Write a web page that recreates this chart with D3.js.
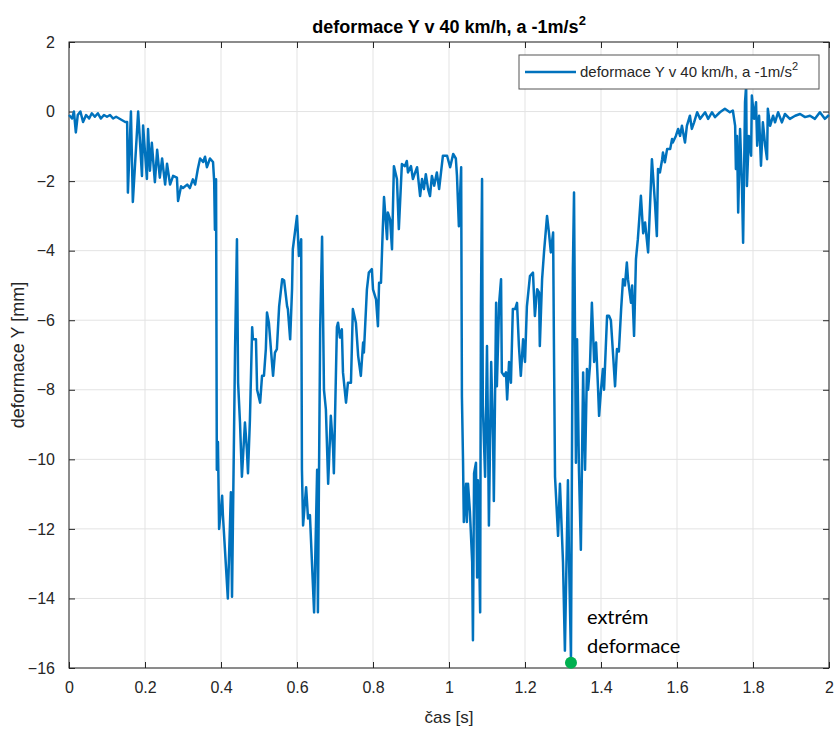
<!DOCTYPE html>
<html>
<head>
<meta charset="utf-8">
<script src="https://cdn.jsdelivr.net/npm/d3@7"></script>
<style>
  body { margin: 0; background: #fff; }
  svg { display: block; font-family: "Liberation Sans", Arial, sans-serif; }
</style>
</head>
<body>
<div id="chart"></div>
<script>
//Časová osa [s]
const casS = [
  0.000, 0.008, 0.013, 0.018, 0.023, 0.030, 0.037, 0.045, 0.053, 0.060, 0.068, 0.076, 0.084, 0.092, 0.100,
  0.108, 0.116, 0.124, 0.132, 0.140, 0.148, 0.153, 0.155, 0.163, 0.168, 0.182, 0.187, 0.192, 0.195, 0.205,
  0.208, 0.213, 0.218, 0.226, 0.232, 0.239, 0.245, 0.253, 0.258, 0.266, 0.274, 0.284, 0.287, 0.295, 0.300,
  0.311, 0.318, 0.326, 0.332, 0.339, 0.345, 0.353, 0.358, 0.363, 0.371, 0.379, 0.382, 0.384, 0.387, 0.389,
  0.392, 0.395, 0.403, 0.405, 0.418, 0.426, 0.429, 0.437, 0.442, 0.445, 0.450, 0.455, 0.463, 0.468, 0.471,
  0.476, 0.482, 0.484, 0.492, 0.495, 0.503, 0.508, 0.513, 0.518, 0.521, 0.526, 0.534, 0.537, 0.542, 0.547,
  0.553, 0.561, 0.566, 0.574, 0.576, 0.582, 0.587, 0.589, 0.600, 0.605, 0.611, 0.613, 0.616, 0.624, 0.629,
  0.634, 0.645, 0.653, 0.655, 0.661, 0.666, 0.671, 0.676, 0.682, 0.689, 0.695, 0.697, 0.705, 0.708, 0.713,
  0.718, 0.721, 0.729, 0.734, 0.742, 0.747, 0.755, 0.761, 0.768, 0.774, 0.776, 0.784, 0.789, 0.797, 0.800,
  0.808, 0.813, 0.816, 0.821, 0.826, 0.829, 0.837, 0.839, 0.845, 0.850, 0.855, 0.863, 0.868, 0.876, 0.884,
  0.889, 0.892, 0.900, 0.905, 0.911, 0.916, 0.924, 0.929, 0.934, 0.939, 0.945, 0.950, 0.955, 0.961, 0.968,
  0.974, 0.979, 0.984, 0.995, 1.003, 1.011, 1.018, 1.021, 1.026, 1.032, 1.034, 1.037, 1.039, 1.045, 1.047,
  1.050, 1.055, 1.061, 1.063, 1.066, 1.071, 1.074, 1.076, 1.082, 1.084, 1.087, 1.089, 1.095, 1.100, 1.103,
  1.105, 1.111, 1.116, 1.118, 1.124, 1.126, 1.132, 1.137, 1.139, 1.145, 1.150, 1.153, 1.158, 1.163, 1.168,
  1.174, 1.179, 1.184, 1.189, 1.195, 1.200, 1.205, 1.213, 1.221, 1.226, 1.232, 1.237, 1.239, 1.245, 1.250,
  1.258, 1.263, 1.268, 1.274, 1.276, 1.279, 1.287, 1.292, 1.300, 1.305, 1.313, 1.316, 1.321, 1.326, 1.329,
  1.334, 1.337, 1.342, 1.347, 1.353, 1.358, 1.363, 1.366, 1.371, 1.376, 1.382, 1.387, 1.392, 1.395, 1.400,
  1.405, 1.408, 1.416, 1.421, 1.426, 1.432, 1.437, 1.442, 1.447, 1.453, 1.458, 1.463, 1.468, 1.471, 1.479,
  1.482, 1.487, 1.492, 1.497, 1.505, 1.511, 1.516, 1.524, 1.534, 1.542, 1.547, 1.550, 1.555, 1.561, 1.563,
  1.568, 1.574, 1.582, 1.587, 1.589, 1.597, 1.603, 1.608, 1.613, 1.621, 1.626, 1.634, 1.639, 1.645, 1.653,
  1.661, 1.674, 1.682, 1.692, 1.700, 1.713, 1.726, 1.739, 1.747, 1.753, 1.755, 1.758, 1.761, 1.766, 1.771,
  1.774, 1.779, 1.782, 1.784, 1.789, 1.795, 1.797, 1.803, 1.808, 1.811, 1.816, 1.821, 1.826, 1.832, 1.837,
  1.839, 1.845, 1.853, 1.858, 1.866, 1.876, 1.884, 1.897, 1.911, 1.924, 1.937, 1.950, 1.963, 1.976, 1.989,
  2.000
];

//Deformace Y [mm]
const deformaceY = [
  -0.1, -0.2, 0.0, -0.6, -0.1, 0.0, -0.3, -0.1, -0.2, -0.05, -0.15, -0.05, -0.2, -0.1, -0.15,
  -0.1, -0.2, -0.15, -0.2, -0.25, -0.3, -0.3, -2.33, 0.0, -2.6, 0.0, -0.9, -1.85, -0.4, -1.94,
  -0.5, -1.7, -0.9, -2.03, -1.1, -1.9, -1.35, -2.1, -1.5, -2.1, -1.85, -1.9, -2.57, -2.15, -2.2,
  -2.1, -2.2, -1.95, -2.1, -1.65, -1.35, -1.45, -1.3, -1.6, -1.35, -1.45, -2.0, -3.4, -1.95, -10.3,
  -9.5, -12.0, -11.05, -11.6, -14.0, -10.95, -13.95, -6.83, -3.67, -7.8, -8.94, -10.5, -8.94, -9.7, -10.4,
  -8.9, -6.2, -6.55, -6.55, -8.0, -8.37, -7.6, -7.6, -6.83, -5.78, -6.07, -7.2, -7.6, -6.93, -6.83,
  -5.6, -4.82, -4.85, -5.6, -5.68, -6.55, -5.1, -3.96, -3.0, -4.15, -3.67, -10.3, -11.9, -10.8, -11.7,
  -11.6, -14.4, -10.3, -14.4, -6.26, -3.6, -8.0, -8.56, -10.7, -8.75, -9.7, -10.4, -6.2, -6.07, -6.5,
  -6.26, -7.5, -8.37, -7.8, -7.8, -5.68, -6.07, -7.03, -7.6, -6.64, -6.93, -5.11, -4.63, -4.53, -5.11,
  -5.4, -6.17, -4.92, -4.92, -3.29, -2.46, -3.67, -2.9, -3.1, -3.96, -1.57, -1.94, -3.38, -1.51, -1.57,
  -1.42, -1.75, -1.57, -1.94, -1.75, -1.6, -2.43, -1.94, -2.23, -1.8, -2.23, -2.43, -1.85, -2.13, -1.75,
  -2.23, -1.75, -1.27, -1.27, -1.6, -1.22, -1.35, -1.85, -3.3, -1.6, -8.2, -10.1, -11.8, -10.7, -11.8,
  -10.7, -11.5, -12.96, -15.2, -10.4, -10.1, -13.4, -10.6, -14.4, -5.6, -1.94, -8.47, -10.5, -6.74, -9.6,
  -11.9, -7.2, -9.4, -11.2, -5.5, -7.9, -5.5, -4.82, -7.5, -7.6, -7.5, -8.28, -7.2, -7.8, -5.68,
  -5.68, -5.5, -6.74, -7.6, -6.55, -7.2, -5.6, -4.73, -4.63, -5.88, -5.11, -5.2, -6.74, -4.82, -4.05,
  -3.0, -3.48, -4.05, -3.48, -6.55, -10.5, -12.2, -10.7, -12.96, -15.5, -10.6, -12.96, -15.75, -4.53, -2.33,
  -10.1, -6.55, -10.3, -12.6, -7.5, -10.3, -7.4, -8.0, -7.3, -5.5, -7.2, -6.64, -7.9, -8.75, -8.0,
  -7.4, -8.0, -5.87, -5.87, -6.0, -7.03, -7.9, -6.83, -6.9, -5.68, -4.82, -5.0, -4.34, -4.82, -5.5,
  -5.0, -6.45, -4.24, -3.67, -2.42, -3.5, -3.19, -4.05, -1.37, -2.62, -3.58, -1.65, -1.75, -1.37, -1.18,
  -1.46, -1.08, -1.08, -0.79, -0.89, -0.7, -0.5, -0.7, -0.41, -0.89, -0.41, -0.12, -0.5, -0.31, -0.02,
  -0.21, -0.02, -0.21, -0.02, -0.16, -0.02, 0.08, -0.02, 0.03, -0.41, -1.65, -0.7, -2.9, -0.5, -2.2,
  -3.77, 0.27, 0.75, -2.14, -0.7, -1.27, 0.46, -0.21, 0.27, -0.98, -0.12, -1.56, -0.31, -0.98, -1.37,
  0.08, -0.41, -0.12, -0.31, -0.02, -0.31, -0.07, -0.21, -0.12, -0.07, -0.16, -0.12, -0.21, -0.02, -0.21,
  -0.1
];

//Extrém deformace
const extremCas = 1.321, extremHodnota = -15.85;

//Popisky os
const xTicks = [0, 0.2, 0.4, 0.6, 0.8, 1, 1.2, 1.4, 1.6, 1.8, 2];
const yTicks = [2, 0, -2, -4, -6, -8, -10, -12, -14, -16];

const COLOR_LINE = '#0072BD', COLOR_AXIS = '#262626', COLOR_GRID = '#e3e3e3', COLOR_EXTREM = '#00b050';

let margin = {top: 42, right: 9, bottom: 61, left: 69},
    width = 838 - margin.left - margin.right,
    height = 729 - margin.top - margin.bottom;

let svgRoot = d3.select('#chart').append('svg')
    .attr('width', 838).attr('height', 729);

let svg = svgRoot.append('g')
    .attr('transform', 'translate(' + margin.left + ',' + margin.top + ')');

let x = d3.scaleLinear().domain([0, 2]).range([0, width]);
let y = d3.scaleLinear().domain([-16, 2]).range([height, 0]);

//Mřížka
svg.append('g').selectAll('line').data(xTicks).enter().append('line')
    .attr('x1', d => x(d)).attr('x2', d => x(d)).attr('y1', 0).attr('y2', height)
    .attr('stroke', COLOR_GRID).attr('stroke-width', 1);
svg.append('g').selectAll('line').data(yTicks).enter().append('line')
    .attr('x1', 0).attr('x2', width).attr('y1', d => y(d)).attr('y2', d => y(d))
    .attr('stroke', COLOR_GRID).attr('stroke-width', 1);

//Osy (tick dovnitř jako v MATLABu)
function styleAxis(g) {
    g.select('.domain').remove();
    g.selectAll('.tick line').attr('stroke', COLOR_AXIS);
    g.selectAll('.tick text').attr('fill', COLOR_AXIS).style('font-size', '16px')
        .style('font-family', '"Liberation Sans", Arial, sans-serif');
}
svg.append('g').attr('transform', 'translate(0,' + height + ')')
    .call(d3.axisBottom(x).tickValues(xTicks).tickFormat(d3.format('')).tickSizeInner(-6).tickPadding(14))
    .call(styleAxis);
svg.append('g')
    .call(d3.axisTop(x).tickValues(xTicks).tickFormat('').tickSizeInner(-6))
    .call(styleAxis);
svg.append('g')
    .call(d3.axisLeft(y).tickValues(yTicks).tickFormat(d3.format('')).tickSizeInner(-6).tickPadding(14))
    .call(styleAxis);
svg.append('g').attr('transform', 'translate(' + width + ',0)')
    .call(d3.axisRight(y).tickValues(yTicks).tickFormat('').tickSizeInner(-6))
    .call(styleAxis);

svg.append('rect').attr('width', width).attr('height', height)
    .attr('fill', 'none').attr('stroke', COLOR_AXIS).attr('stroke-width', 1);

//Křivka
let data = casS.map((t, i) => ({t: t, v: deformaceY[i]}));
let line = d3.line().x(d => x(d.t)).y(d => y(d.v));

svg.append('path').datum(data)
    .attr('d', line)
    .attr('fill', 'none')
    .attr('stroke', COLOR_LINE)
    .attr('stroke-width', 2.5)
    .attr('stroke-linejoin', 'round');

//Extrém
svg.append('circle')
    .attr('cx', x(extremCas)).attr('cy', y(extremHodnota)).attr('r', 6)
    .attr('fill', COLOR_EXTREM);

let ann = svg.append('text')
    .attr('x', x(extremCas) + 16).attr('y', y(extremHodnota) - 39)
    .style('font-family', 'Lato, "Open Sans", sans-serif').style('font-size', '20px').attr('fill', '#000');
ann.append('tspan').text('extrém');
ann.append('tspan').attr('x', x(extremCas) + 16).attr('dy', 29).text('deformace');

//Titulek
let title = svgRoot.append('text')
    .attr('x', margin.left + width / 2).attr('y', 33)
    .attr('text-anchor', 'middle')
    .style('font-weight', 'bold').style('font-size', '18px').attr('fill', '#000');
title.append('tspan').text('deformace Y v 40 km/h, a -1m/s');
title.append('tspan').attr('dy', -8).style('font-size', '13px').text('2');

//Popisky os
svgRoot.append('text')
    .attr('x', margin.left + width / 2).attr('y', 723)
    .attr('text-anchor', 'middle').style('font-size', '17px').attr('fill', COLOR_AXIS)
    .text('čas [s]');
svgRoot.append('text')
    .attr('transform', 'translate(24,' + (margin.top + height / 2) + ') rotate(-90)')
    .attr('text-anchor', 'middle').style('font-size', '18px').attr('fill', COLOR_AXIS)
    .text('deformace Y [mm]');

//Legenda
let legend = svg.append('g').attr('transform', 'translate(' + (width - 310) + ',13)');
legend.append('rect').attr('width', 300).attr('height', 34)
    .attr('fill', '#fff').attr('stroke', '#555').attr('stroke-width', 1);
legend.append('line').attr('x1', 6).attr('x2', 57).attr('y1', 17).attr('y2', 17)
    .attr('stroke', COLOR_LINE).attr('stroke-width', 2.5);
let lt = legend.append('text').attr('x', 61).attr('y', 22)
    .style('font-size', '15px').attr('fill', COLOR_AXIS);
lt.append('tspan').text('deformace Y v 40 km/h, a -1m/s');
lt.append('tspan').attr('dy', -7).style('font-size', '11px').text('2');
</script>
</body>
</html>
